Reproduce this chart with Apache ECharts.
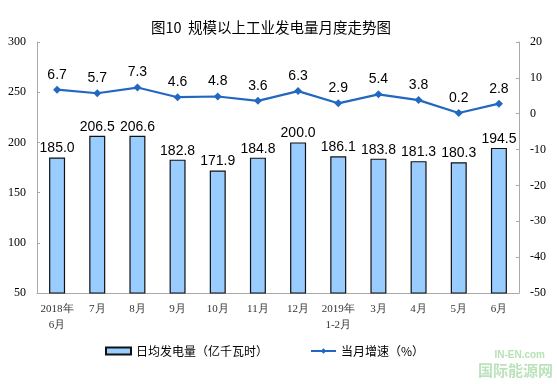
<!DOCTYPE html>
<html><head><meta charset="utf-8">
<script src="https://cdn.jsdelivr.net/npm/echarts@6/dist/echarts.min.js"></script>
<style>html,body{margin:0;padding:0;background:#fff}#c{width:557px;height:384px}</style>
</head><body><div id="c"></div>
<script>
const categories = ['2018年\n6月','7月','8月','9月','10月','11月','12月','2019年\n1-2月','3月','4月','5月','6月'];
const dailyOutput = [185.0,206.5,206.6,182.8,171.9,184.8,200.0,186.1,183.8,181.3,180.3,194.5];
const growth = [6.7,5.7,7.3,4.6,4.8,3.6,6.3,2.9,5.4,3.8,0.2,2.8];
const leftTicks = [50,300,50];
const rightTicks = [-50,20,10];

const chart = echarts.init(document.getElementById('c'));
const serif = '"Liberation Serif","Times New Roman",serif';
chart.setOption({
  animation:false,
  title:{text:'图10  规模以上工业发电量月度走势图',left:146,top:15,
    textStyle:{fontSize:14.5,fontWeight:'normal',color:'#000',fontFamily:'"Noto Sans CJK SC",sans-serif'}},
  grid:{left:37,right:38,top:42,bottom:91},
  legend:{bottom:22,left:100,itemGap:42,itemWidth:25,itemHeight:7,
    textStyle:{fontSize:12,color:'#000',fontFamily:'"Noto Sans CJK SC",sans-serif'},
    data:[{name:'日均发电量（亿千瓦时）',icon:'rect'},{name:'当月增速（%）'}]},
  xAxis:{type:'category',data:categories,
    axisLine:{onZero:false,lineStyle:{color:'#aaa'}},
    axisTick:{inside:true,length:3,lineStyle:{color:'#aaa'}},
    axisLabel:{interval:0,fontSize:11,color:'#333',lineHeight:16,margin:8,fontFamily:serif}},
  yAxis:[
    {type:'value',min:leftTicks[0],max:leftTicks[1],interval:leftTicks[2],
      axisLine:{show:true,lineStyle:{color:'#aaa'}},
      axisTick:{show:true,inside:true,length:3,lineStyle:{color:'#aaa'}},
      splitLine:{show:false},
      axisLabel:{fontSize:12,color:'#000',margin:11,fontFamily:serif}},
    {type:'value',min:rightTicks[0],max:rightTicks[1],interval:rightTicks[2],
      axisLine:{show:true,lineStyle:{color:'#aaa'}},
      axisTick:{show:true,inside:true,length:3,lineStyle:{color:'#aaa'}},
      splitLine:{show:false},
      axisLabel:{fontSize:12,color:'#000',margin:11,fontFamily:serif}}
  ],
  series:[
    {name:'日均发电量（亿千瓦时）',type:'bar',data:dailyOutput,barWidth:16,
      itemStyle:{color:'#99CCFF',borderColor:'#111',borderWidth:1.2},
      label:{show:true,position:'top',distance:2,fontSize:14,color:'#000',
        fontFamily:'"Liberation Sans",Arial,sans-serif',formatter:p=>p.value.toFixed(1)}},
    {name:'当月增速（%）',type:'line',yAxisIndex:1,data:growth,
      symbol:'diamond',symbolSize:8,
      lineStyle:{color:'#2268C0',width:2.2},itemStyle:{color:'#2268C0'},
      label:{show:true,position:'top',distance:4,fontSize:14,color:'#000',
        fontFamily:'"Liberation Sans",Arial,sans-serif',formatter:p=>p.value.toFixed(1)}}
  ],
  graphic:[
    {type:'text',right:12,bottom:24,style:{text:'IN-EN.com',fontSize:10,fill:'rgba(120,200,120,0.55)',fontWeight:'bold',fontFamily:'"Liberation Sans",sans-serif'}},
    {type:'text',right:4,bottom:6,style:{text:'国际能源网',fontSize:15,fill:'rgba(120,200,120,0.5)',fontWeight:'bold',fontFamily:'"Noto Sans CJK SC",sans-serif'}}
  ]
});
</script></body></html>
